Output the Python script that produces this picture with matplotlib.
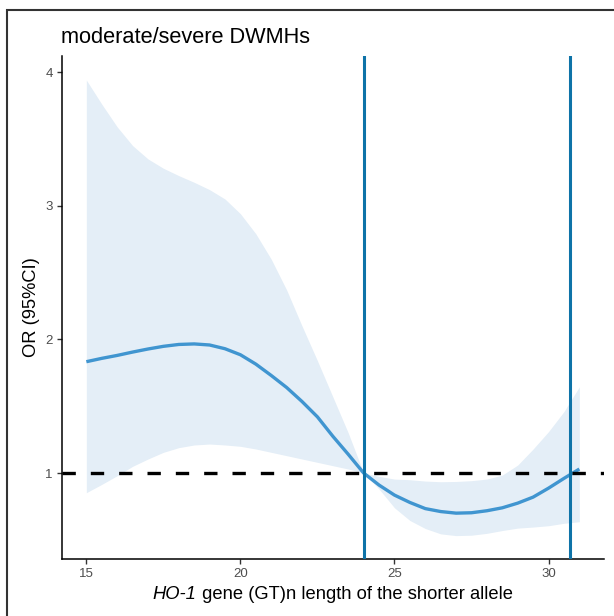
import matplotlib
matplotlib.use("Agg")
import matplotlib.pyplot as plt
from matplotlib.patches import Rectangle

plt.rcParams["font.family"] = ["Liberation Sans", "DejaVu Sans"]

# values (x = (GT)n length)
gt_len = [15, 15.5, 16, 16.5, 17, 17.5, 18, 18.5, 19, 19.5, 20, 20.5, 21, 21.5,
          22, 22.5, 23, 23.5, 24, 24.5, 25, 25.5, 26, 26.5, 27, 27.5, 28, 28.5,
          29, 29.5, 30, 30.5, 31]
or_fit = [1.833, 1.858, 1.88, 1.905, 1.928, 1.948, 1.962, 1.966, 1.958, 1.93,
          1.885, 1.815, 1.73, 1.64, 1.535, 1.42, 1.275, 1.14, 1.0, 0.91, 0.835,
          0.78, 0.734, 0.712, 0.70, 0.703, 0.718, 0.74, 0.775, 0.82, 0.887,
          0.96, 1.03]
ci_upper = [3.94, 3.76, 3.59, 3.45, 3.35, 3.28, 3.225, 3.175, 3.12, 3.05, 2.94,
            2.79, 2.60, 2.37, 2.10, 1.84, 1.57, 1.30, 1.0, 0.975, 0.955, 0.95,
            0.94, 0.935, 0.937, 0.943, 0.955, 0.985, 1.06, 1.18, 1.31, 1.46,
            1.645]
ci_lower = [0.853, 0.915, 0.98, 1.05, 1.105, 1.155, 1.19, 1.21, 1.217, 1.21,
            1.20, 1.18, 1.155, 1.13, 1.105, 1.08, 1.055, 1.03, 1.0, 0.88, 0.74,
            0.645, 0.585, 0.545, 0.532, 0.535, 0.549, 0.57, 0.588, 0.596, 0.606,
            0.624, 0.636]
cut_points = [24.0, 30.7]
x_ticks = [15, 20, 25, 30]
y_ticks = [1, 2, 3, 4]

W, H = 614, 616
fig = plt.figure(figsize=(W / 100, H / 100), dpi=100)
ax = fig.add_axes([61.7 / W, 1 - 559 / H, (604 - 61.7) / W, (559 - 56) / H])

ax.fill_between(gt_len, ci_lower, ci_upper, color="#E4EEF7", lw=0, zorder=1)
ax.plot(gt_len, or_fit, color="#4095D0", lw=2.4, zorder=3,
        solid_capstyle="butt")
ax.axhline(1, color="black", lw=2.4, ls=(0, (4.0, 4.5)), zorder=4)
for cp in cut_points:
    ax.axvline(cp, color="#0E73A8", lw=2.2, zorder=5)

ax.set_xlim(14.2, 31.8)
ax.set_ylim(0.357, 4.12)
ax.set_xticks(x_ticks)
ax.set_yticks(y_ticks)
ax.tick_params(color="#333333", labelsize=9.5, length=3.5, width=1,
               labelcolor="#4D4D4D", pad=3)
for s in ["top", "right"]:
    ax.spines[s].set_visible(False)
for s in ["left", "bottom"]:
    ax.spines[s].set_linewidth(1.1)
    ax.spines[s].set_color("black")

# y title
fig.text(31 / W, 1 - 307 / H, "OR (95%CI)", fontsize=13.2, rotation=90,
         ha="center", va="center")

# x title: italic gene name followed by plain text
fig.canvas.draw()
renderer = fig.canvas.get_renderer()
base_y = 1 - 599 / H
t1 = fig.text(0, base_y, "HO-1", fontsize=13.2, style="italic", va="baseline")
t2 = fig.text(0, base_y, " gene (GT)n length of the shorter allele",
              fontsize=13.2, va="baseline")
w1 = t1.get_window_extent(renderer).width
w2 = t2.get_window_extent(renderer).width
x0 = (61.7 + 604) / 2 - (w1 + w2) / 2
t1.set_x(x0 / W)
t2.set_x((x0 + w1) / W)

fig.text(61 / W, 1 - 43 / H, "moderate/severe DWMHs", fontsize=15.7,
         va="baseline", ha="left")

# outer frame (cropped at right and bottom in the reference)
fig.patches.append(Rectangle((7 / W, -0.2), 1.2, 1.2 - 10 / H,
                             transform=fig.transFigure, fill=False,
                             ec="#333333", lw=1.5))

fig.savefig("out.png", dpi=100)
